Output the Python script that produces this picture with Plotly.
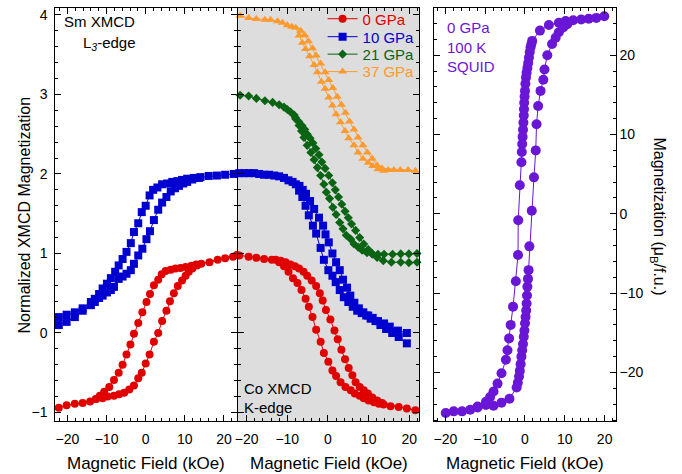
import plotly.graph_objects as go

# ---------------- data ----------------
# Left panel: Sm L3-edge XMCD
sm_0gpa_field = [-22.2, -20.2, -18.1, -16.1, -14.2,
                 -12.7, -11.0, -9.7, -8.1, -6.8, -5.5, -4.2, -3.0, -1.9, -1.0, 0.0, 1.0, 2.1, 3.2, 4.2, 5.3, 6.2, 7.2, 8.2, 9.3, 10.2, 11.0, 11.9, 13.1,
                 14.2, 16.3, 18.4, 20.3, 22.3, 23.3,
                 12.9, 11.7, 10.2, 8.9, 7.6, 6.4, 5.1, 4.1, 3.2, 2.1, 1.1, 0.2, -0.85, -1.9, -3.0, -3.9, -4.9, -5.9, -6.9, -8.1, -9.3, -10.6, -11.7, -12.7]
sm_0gpa_xmcd = [-0.94, -0.91, -0.89, -0.88, -0.86,
                -0.83, -0.82, -0.80, -0.79, -0.77, -0.75, -0.71, -0.66, -0.57, -0.50, -0.385, -0.27, -0.11, 0.0, 0.15, 0.28, 0.40, 0.50, 0.59, 0.66, 0.72, 0.77, 0.81, 0.85,
                0.87, 0.89, 0.92, 0.94, 0.96, 0.98,
                0.86, 0.845, 0.83, 0.816, 0.81, 0.795, 0.78, 0.74, 0.67, 0.60, 0.49, 0.39, 0.26, 0.125, -0.01, -0.146, -0.27, -0.40, -0.50, -0.59, -0.68, -0.74, -0.79, -0.83]

sm_10gpa_field = [22.5, 20.3, 18.2, 16.1, 14.0, 12.3, 10.6, 9.3, 8.1, 6.8, 5.5, 4.2, 3.0, 1.9, 1.0, 0.0, -1.0, -1.9, -3.0, -3.8, -4.9, -5.9, -6.9, -7.8, -8.9, -9.9, -11.0, -11.9, -13.0, -14.0, -16.1, -18.1, -20.2, -22.2,
                  -22.2, -20.2, -18.1, -16.1, -14.0, -13.0, -11.9, -11.0, -9.9, -8.9, -8.1, -6.9, -5.9, -4.9, -3.8, -3.0, -1.9, -0.85, 0.2, 1.1, 2.1, 3.2, 4.2, 5.3, 6.4, 7.5, 8.5, 9.6, 10.6, 11.9, 13.6]
sm_10gpa_xmcd = [2.00, 1.99, 1.98, 1.975, 1.96, 1.95, 1.94, 1.925, 1.91, 1.90, 1.88, 1.87, 1.83, 1.80, 1.73, 1.60, 1.52, 1.38, 1.27, 1.13, 1.02, 0.93, 0.85, 0.77, 0.69, 0.62, 0.56, 0.49, 0.43, 0.39, 0.31, 0.26, 0.23, 0.20,
                 0.10, 0.14, 0.20, 0.28, 0.35, 0.39, 0.44, 0.47, 0.51, 0.54, 0.58, 0.68, 0.71, 0.745, 0.79, 0.87, 0.975, 1.06, 1.18, 1.28, 1.42, 1.55, 1.64, 1.71, 1.78, 1.82, 1.85, 1.88, 1.90, 1.93, 1.95]

# Middle panel: Co K-edge XMCD (offset curves)
co_0gpa_field = [-21.8, -19.5, -17.6, -15.7, -13.8, -12.8,
                 -12.0, -10.8, -9.7, -8.6, -7.5, -6.5, -5.5, -4.7, -3.8, -2.9, -1.8, -1.0, 0.1, 1.1, 2.0, 3.1, 4.3, 5.6, 6.6, 7.8, 8.8, 10.0, 11.3, 12.5, 13.7,
                 15.4, 17.4, 19.4, 21.5,
                 13.3, 12.1, 10.9, 9.8, 8.8, 7.8, 6.8, 6.0, 5.1, 4.2, 3.3, 2.4, 1.6, 0.6, -0.5, -1.3, -2.0, -2.9, -4.0, -5.1, -6.0, -7.1, -8.1, -9.2, -10.4, -11.6]
co_0gpa_xmcd = [0.975, 0.96, 0.945, 0.93, 0.92, 0.92,
                0.89, 0.84, 0.77, 0.69, 0.63, 0.54, 0.43, 0.33, 0.20, 0.04, -0.11, -0.25, -0.36, -0.47, -0.54, -0.62, -0.68, -0.72, -0.76, -0.79, -0.82, -0.85, -0.87, -0.89, -0.90,
                -0.92, -0.93, -0.95, -0.97,
                -0.88, -0.85, -0.81, -0.76, -0.72, -0.68, -0.62, -0.53, -0.44, -0.33, -0.21, -0.08, 0.03, 0.17, 0.29, 0.41, 0.50, 0.59, 0.66, 0.72, 0.77, 0.81, 0.84, 0.86, 0.89, 0.91]

co_10gpa_field = [-21.8, -20.6, -19.4, -18.2, -16.9, -15.7, -14.5, -13.2, -12.0, -10.8, -9.7, -8.7, -7.9,
                  -7.1, -6.3, -5.5, -4.7, -3.7, -2.9, -1.8, -1.0, 0.1, 1.1, 1.9, 2.9, 3.9, 5.0, 6.1, 7.2, 8.3, 9.4, 10.5, 11.7, 12.9, 14.3, 15.8, 17.4, 19.4,
                  None,
                  -7.0, -6.2, -5.4, -4.4, -3.4, -2.2, -1.2, -0.6, 0.2, 1.1, 2.0, 2.9, 3.7, 4.7, 5.5, 6.5, 7.6, 8.7, 9.9, 11.0, 12.3, 13.8, 15.2, 17.2, 19.4]
co_10gpa_xmcd = [2.01, 2.01, 2.01, 2.01, 2.00, 1.99, 1.99, 1.98, 1.97, 1.95, 1.92, 1.90, 1.87,
                 1.79, 1.71, 1.60, 1.48, 1.35, 1.25, 1.07, 0.92, 0.79, 0.72, 0.64, 0.54, 0.45, 0.39, 0.33, 0.28, 0.25, 0.22, 0.18, 0.15, 0.10, 0.05, 0.0, -0.05, -0.13,
                 None,
                 1.85, 1.80, 1.75, 1.66, 1.56, 1.45, 1.35, 1.24, 1.14, 1.00, 0.89, 0.79, 0.67, 0.57, 0.47, 0.38, 0.31, 0.26, 0.22, 0.19, 0.15, 0.12, 0.08, 0.03, 0.0]

co_21gpa_field = [-21.6, -19.5, -17.6, -15.5, -13.6, -12.0, -10.8, -10.0, -9.2,
                  -8.3, -7.9, -7.1, -6.5, -5.9, -5.1, -4.2, -3.4, -2.6, -1.8, -1.0, -0.4, 0.4, 1.2, 2.0, 2.9, 3.7, 4.5, 5.6, 6.4, 7.4, 8.4, 9.6, 10.9, 12.3, 13.8, 15.9, 17.9, 19.9, 21.9,
                  None,
                  21.9, 19.9, 17.9, 15.6, 13.6, 12.1, 10.9, 9.9, 8.8, 7.8, 6.8, 5.8, 5.0, 4.2, 3.4, 2.6, 1.8, 1.1, 0.2, -0.7, -1.5, -2.2, -3.0, -3.7, -4.4, -5.1, -5.7, -6.4, -7.2, -8.0]
co_21gpa_xmcd = [2.99, 2.98, 2.95, 2.92, 2.90, 2.87, 2.84, 2.81, 2.78,
                 2.74, 2.69, 2.61, 2.54, 2.46, 2.36, 2.27, 2.18, 2.08, 1.98, 1.87, 1.77, 1.69, 1.58, 1.49, 1.39, 1.31, 1.23, 1.18, 1.12, 1.08, 1.04, 1.01, 0.99, 0.99, 0.99, 0.99, 0.995, 0.995, 1.00,
                 None,
                 0.89, 0.885, 0.89, 0.89, 0.91, 0.95, 1.00, 1.05, 1.12, 1.20, 1.29, 1.37, 1.45, 1.53, 1.62, 1.71, 1.80, 1.89, 1.98, 2.07, 2.15, 2.24, 2.32, 2.39, 2.45, 2.50, 2.56, 2.61, 2.66, 2.71]

co_37gpa_field = [-21.6, -19.5, -17.6, -15.5, -14.1, -12.4, -11.2, -10.0, -8.9, -7.9,
                  -7.1, -6.3, -5.5, -4.5, -3.4, -2.6, -1.6, -0.7, 0.2, 1.1, 2.0, 3.1, 4.2, 5.1, 6.4, 7.4, 8.6, 9.9, 11.0, 12.3, 13.7,
                  14.8, 16.2, 17.8, 19.7, 21.5,
                  13.3, 12.1, 10.9, 9.7, 8.6, 7.4, 6.4, 5.3, 4.3, 3.3, 2.3, 1.2, 0.2, -0.7, -1.8, -2.9, -3.8, -4.8, -5.7, -6.7]
co_37gpa_xmcd = [3.99, 3.96, 3.95, 3.94, 3.94, 3.92, 3.90, 3.87, 3.85, 3.84,
                 3.74, 3.65, 3.57, 3.48, 3.37, 3.28, 3.16, 3.07, 2.96, 2.86, 2.75, 2.65, 2.54, 2.45, 2.36, 2.27, 2.19, 2.14, 2.10, 2.06, 2.04,
                 2.05, 2.05, 2.05, 2.05, 2.04,
                 2.07, 2.11, 2.19, 2.27, 2.36, 2.46, 2.56, 2.66, 2.77, 2.87, 2.97, 3.08, 3.18, 3.28, 3.39, 3.49, 3.58, 3.67, 3.745, 3.80]

# Right panel: SQUID magnetization, 0 GPa, 100 K
squid_field = [-19.9, -17.9, -15.8, -13.75, -11.9,
               -9.8, -7.9, -5.9, -3.9, -2.1, -1.8, -1.5, -1.3, -1.1, -0.9, -0.7, -0.5, -0.3, -0.15, 0.0, 0.15, 0.3, 0.4, 0.5, 0.6, 0.75, 0.9, 1.1, 1.7,
               2.25, 2.7, 2.9, 3.3, 3.9, 4.6, 4.9, 5.6, 6.8, 7.7, 8.5, 9.6, 10.6,
               12.1, 14.1, 16.0, 17.9, 19.9,
               10.2, 8.5, 6.0, 3.75, 1.8, 1.6, 1.4, 1.2, 1.0, 0.8, 0.6, 0.4, 0.25, 0.1, 0.0, -0.1, -0.2, -0.25, -0.3, -0.4, -0.5, -0.6, -0.7, -0.8, -0.9,
               -1.3, -1.7, -1.75, -2.3, -3.0, -3.6, -4.0, -4.4, -4.8, -5.9, -6.9, -7.9, -8.75, -9.8, -11.9]
squid_moment = [-25.1, -24.9, -24.9, -24.7, -24.4,
                -24.1, -24.2, -23.8, -23.3, -21.9, -21.3, -20.5, -19.8, -18.95, -18.0, -17.2, -16.4, -15.5, -14.7, -13.8, -13.0, -12.2, -11.3, -10.3, -9.2, -8.2, -7.1, -4.1, 0.4,
                4.6, 8.0, 11.3, 13.6, 15.5, 16.9, 18.2, 20.0, 21.4, 22.2, 22.9, 23.5, 23.9,
                24.4, 24.5, 24.6, 24.7, 24.9,
                24.3, 24.1, 23.8, 23.1, 21.8, 21.4, 21.0, 20.4, 19.7, 19.0, 18.4, 17.8, 17.2, 16.4, 15.5, 14.8, 14.0, 13.2, 12.4, 11.5, 10.6, 9.7, 8.8, 7.8, 6.5,
                3.6, -0.8, -5.2, -8.5, -11.7, -14.0, -15.7, -17.2, -18.4, -20.1, -21.4, -22.4, -23.1, -23.7, -24.3]

pressure_labels = ["0 GPa", "10 GPa", "21 GPa", "37 GPa"]
x_ticks = [-20, -10, 0, 10, 20]

# ---------------- styling ----------------
RED, BLUE, GREEN, ORANGE, PURPLE = "#e00000", "#0000d0", "#0a6414", "#ff9a2e", "#6a16d6"
FONT = "Liberation Sans, Arial, sans-serif"
W, H = 682, 474

def px_x(p):
    return p / W

def px_y(p):
    return 1 - p / H

fig = go.Figure()

def tr(x, y, color, symbol, size, xa, ya, name=None, legend=None):
    fig.add_trace(go.Scatter(
        x=x, y=y, mode="lines+markers", xaxis=xa, yaxis=ya,
        line=dict(color=color, width=1),
        marker=dict(color=color, symbol=symbol, size=size, line=dict(width=0)),
        name=name, showlegend=legend is not None, legend=legend or "legend",
        cliponaxis=False,
    ))

# middle panel (each entry in its own legend box so the rows can be spaced like the reference)
tr(co_0gpa_field, co_0gpa_xmcd, RED, "circle", 8, "x2", "y2",
   f'<span style="color:{RED}">{pressure_labels[0]}</span>', "legend")
tr(co_10gpa_field, co_10gpa_xmcd, BLUE, "square", 8, "x2", "y2",
   f'<span style="color:{BLUE}">{pressure_labels[1]}</span>', "legend2")
tr(co_21gpa_field, co_21gpa_xmcd, GREEN, "diamond", 7, "x2", "y2",
   f'<span style="color:{GREEN}">{pressure_labels[2]}</span>', "legend3")
tr(co_37gpa_field, co_37gpa_xmcd, ORANGE, "triangle-up", 8, "x2", "y2",
   f'<span style="color:{ORANGE}">{pressure_labels[3]}</span>', "legend4")
# left panel
tr(sm_0gpa_field, sm_0gpa_xmcd, RED, "circle", 8, "x", "y")
tr(sm_10gpa_field, sm_10gpa_xmcd, BLUE, "square", 8, "x", "y")
# right panel
tr(squid_field, squid_moment, PURPLE, "circle", 10, "x3", "y3")

tickfont = dict(family=FONT, size=14, color="black")
common_x = dict(ticks="inside", ticklen=6, tickwidth=1, tickcolor="black",
                tickvals=x_ticks, showline=True, linecolor="black", linewidth=1,
                mirror="ticks", showgrid=False, zeroline=False, tickfont=tickfont,
                ticklabelstandoff=5,
                minor=dict(dtick=2, tick0=0, ticks="inside", ticklen=3, tickcolor="black"))
ydom = [px_y(421), px_y(7)]
common_y = dict(ticks="inside", ticklen=6, tickwidth=1, tickcolor="black",
                showline=True, linecolor="black", linewidth=1, mirror="ticks",
                showgrid=False, zeroline=False, tickfont=tickfont, domain=ydom)

def legend_box(ypix):
    return dict(x=px_x(321), y=px_y(ypix), xanchor="left", yanchor="middle",
                bgcolor="rgba(0,0,0,0)", font=dict(family=FONT, size=15),
                itemwidth=30, borderwidth=0)

fig.update_layout(
    width=W, height=H, margin=dict(l=0, r=0, t=0, b=0),
    paper_bgcolor="white", plot_bgcolor="rgba(0,0,0,0)",
    font=dict(family=FONT, size=14, color="black"),
    xaxis=dict(domain=[px_x(52.5), px_x(234.9)], range=[-23.1, 23.3], anchor="y", **common_x),
    xaxis2=dict(domain=[px_x(235.7), px_x(418.3)], range=[-22.2, 22.5], anchor="y2", **common_x),
    xaxis3=dict(domain=[px_x(432.7), px_x(615.5)], range=[-22.9, 22.8], anchor="y3", **common_x),
    yaxis=dict(range=[-1.108, 4.087], anchor="x", dtick=1, tick0=0, ticklabelstandoff=4,
               minor=dict(dtick=0.2, ticks="inside", ticklen=3, tickcolor="black"), **common_y),
    yaxis2=dict(range=[-1.108, 4.087], anchor="x2", dtick=1, tick0=0, showticklabels=False,
                minor=dict(dtick=0.2, ticks="inside", ticklen=3, tickcolor="black"), **common_y),
    yaxis3=dict(range=[-26.13, 25.95], anchor="x3", side="right", dtick=10, tick0=0,
                minor=dict(dtick=2, ticks="inside", ticklen=3, tickcolor="black"), **common_y),
    legend=legend_box(18), legend2=legend_box(36), legend3=legend_box(53.5), legend4=legend_box(71),
    shapes=[dict(type="rect", xref="x2 domain", yref="y2 domain", x0=0, x1=1, y0=0, y1=1,
                 fillcolor="#dcdddc", line=dict(width=0), layer="below")],
)

ann = []
def text(x, y, s, color="black", size=15, angle=0, xanchor="center"):
    ann.append(dict(x=px_x(x), y=px_y(y), xref="paper", yref="paper", text=s, showarrow=False,
                    font=dict(family=FONT, size=size, color=color), textangle=angle,
                    xanchor=xanchor, yanchor="middle"))

for cx in [(52.5 + 234.9) / 2, (235.7 + 418.3) / 2, (432.7 + 615.5) / 2]:
    text(cx, 463, "Magnetic Field (kOe)", size=17)
text(22, 214, "Normalized XMCD Magnetization", size=16, angle=-90)
text(658, 216, "Magnetization (μ<sub>B</sub>/f.u.)", size=16, angle=90)
text(59, 21, "Sm XMCD", xanchor="left")
text(78, 43, "L<sub><i>3</i></sub>-edge", xanchor="left")
text(240, 388, "Co XMCD", xanchor="left")
text(240, 407, "K-edge", xanchor="left")
text(444, 27, "0 GPa", color=PURPLE, xanchor="left")
text(444, 47, "100 K", color=PURPLE, xanchor="left")
text(444, 66, "SQUID", color=PURPLE, xanchor="left")
fig.update_layout(annotations=ann)

fig.write_html("out.html", config={"displayModeBar": False},
               post_script="document.body.style.margin='0';document.body.style.overflow='hidden';")
